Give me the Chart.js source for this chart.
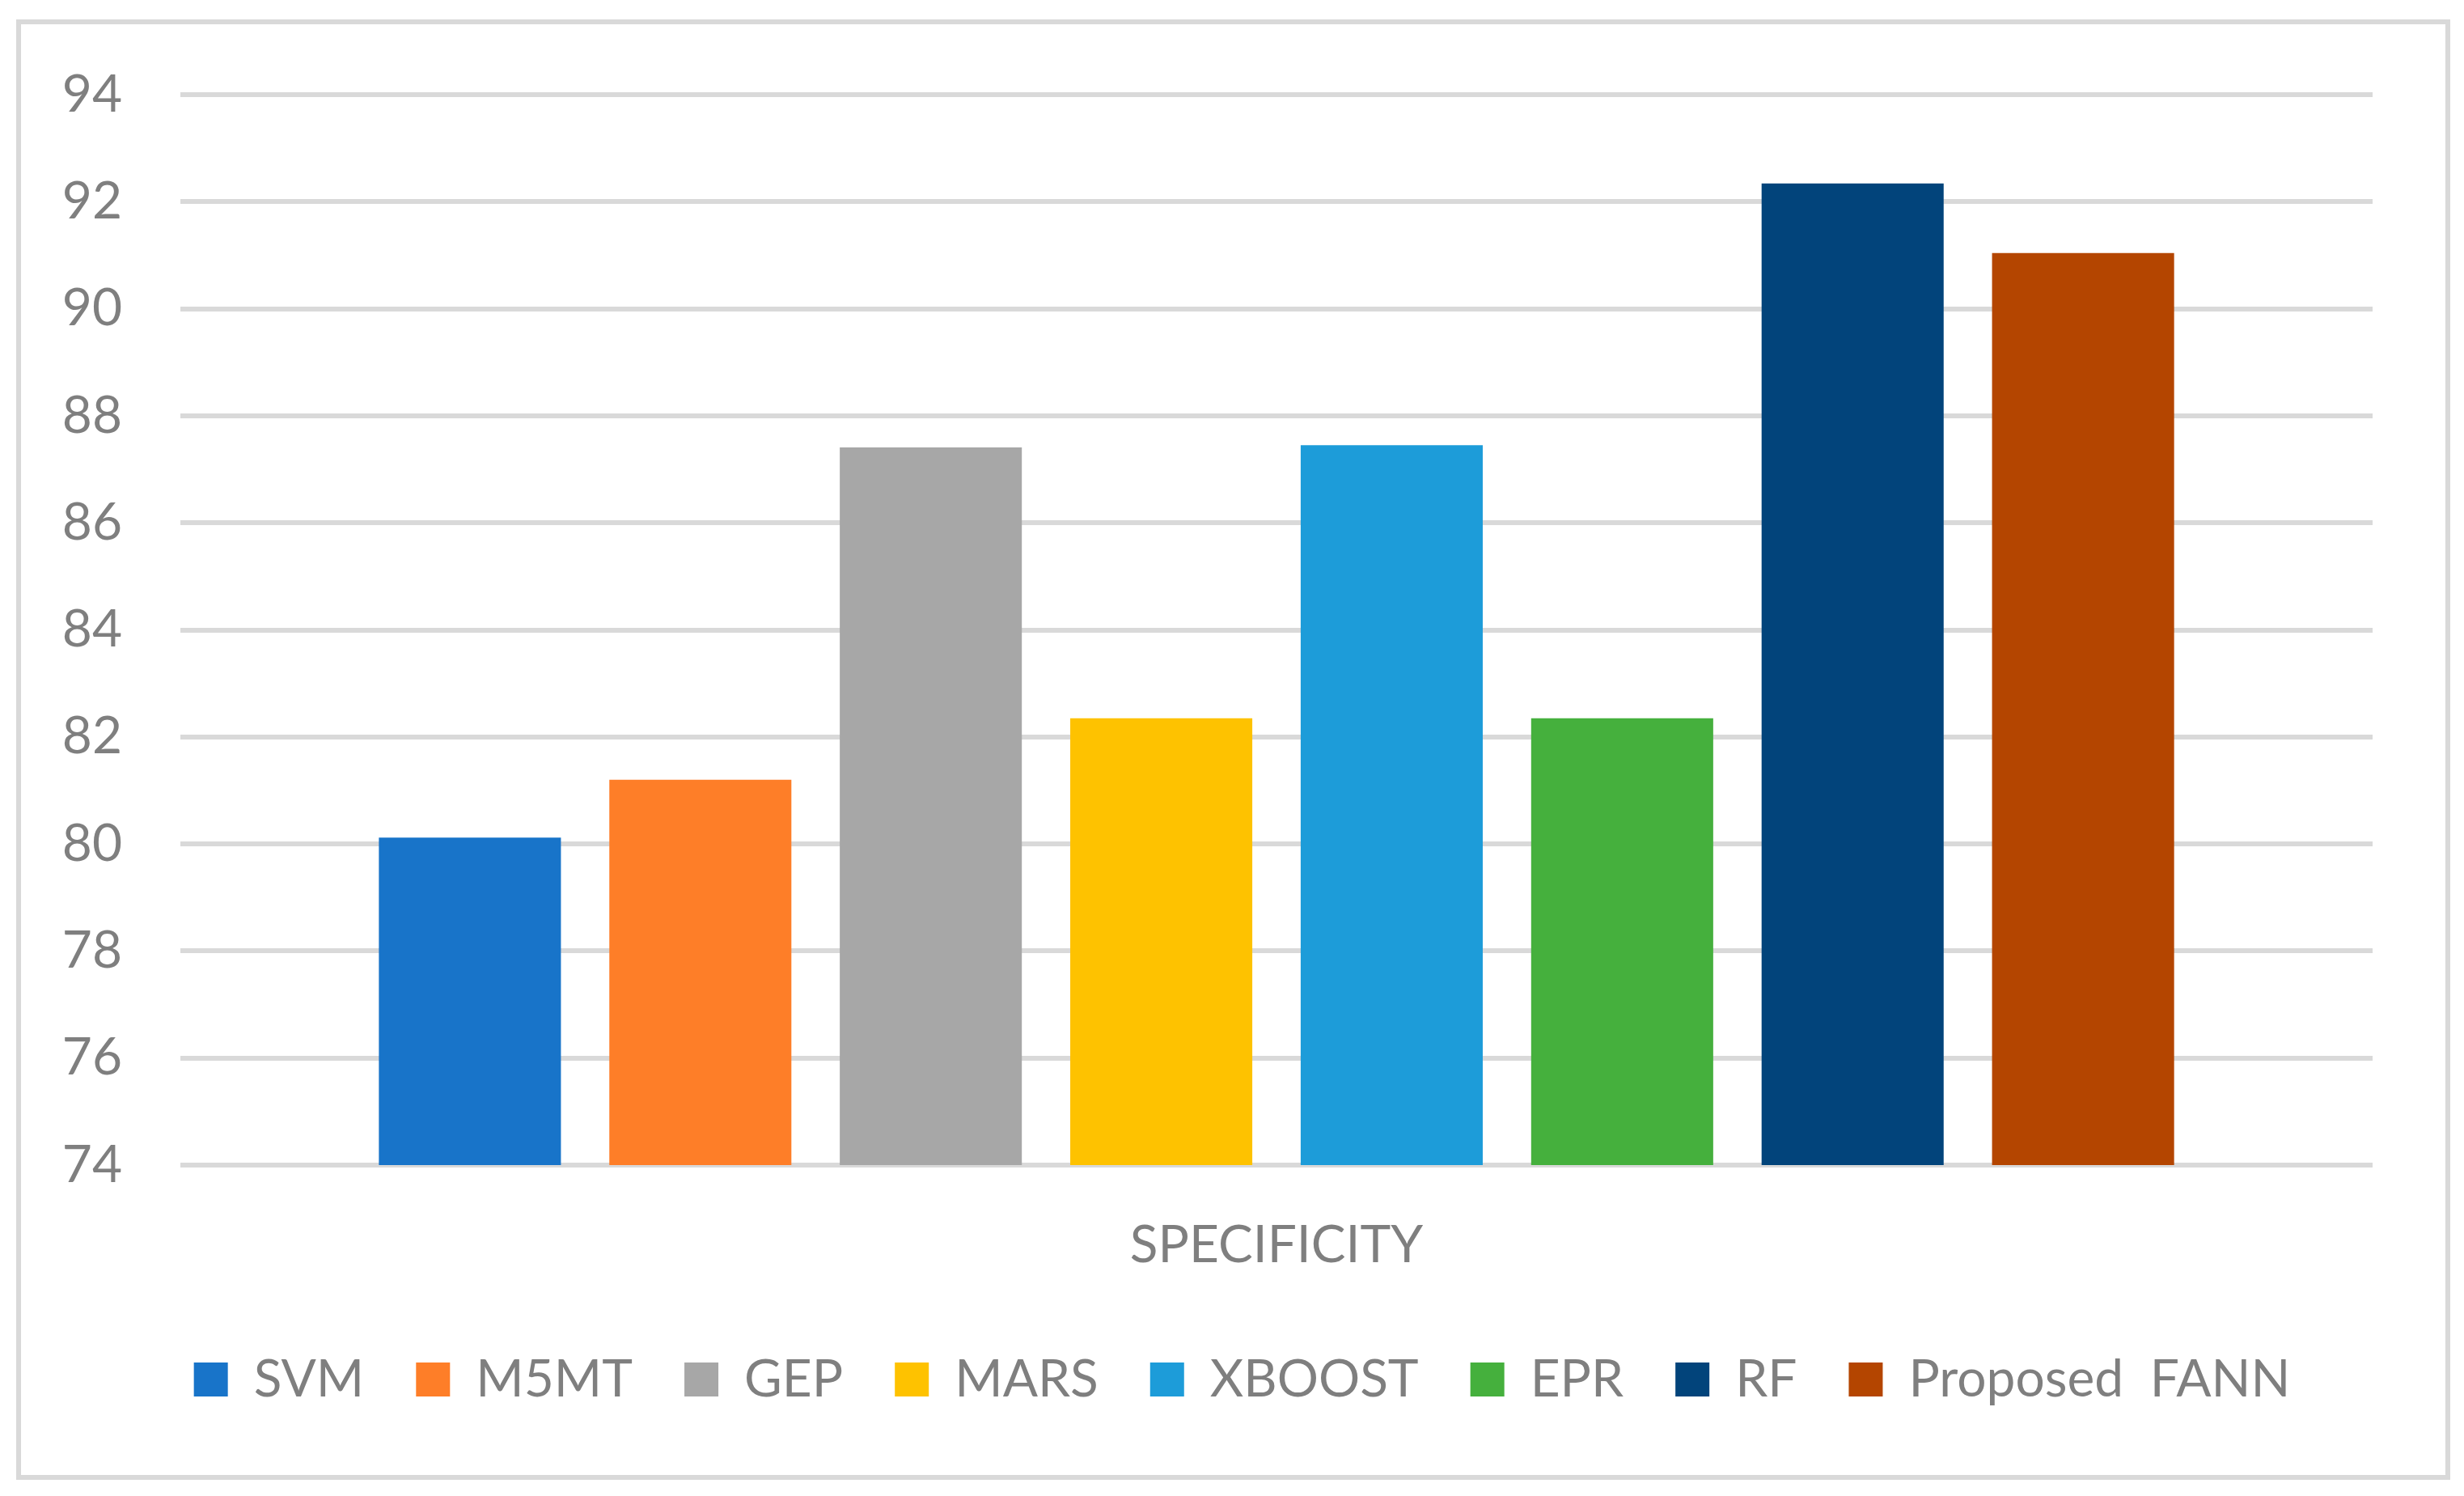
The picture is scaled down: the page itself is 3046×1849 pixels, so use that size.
<!DOCTYPE html>
<html>
<head>
<meta charset="utf-8">
<script src="https://cdn.jsdelivr.net/npm/chart.js@4.4.0/dist/chart.umd.min.js"></script>
<style>
  html, body { margin: 0; padding: 0; background: #ffffff; }
  #wrap { width: 3046px; height: 1849px; position: relative; }
</style>
</head>
<body>
<div id="wrap"><canvas id="lienzo" width="3046" height="1849"></canvas></div>
<script>
// Datos
const categorias = ['SPECIFICITY'];
const modelos = ['SVM', 'M5MT', 'GEP', 'MARS', 'XBOOST', 'EPR', 'RF', 'Proposed  FANN'];
const valores = [80.12, 81.2, 87.41, 82.35, 87.45, 82.35, 92.34, 91.04];
const colores = ['#1874c9', '#fe7e28', '#a7a7a7', '#fec200', '#1d9cd9', '#45b03d', '#02447b', '#b44500'];
const ticksY = [74, 76, 78, 80, 82, 84, 86, 88, 90, 92, 94];

const gris = '#7f7f7f';
const fuente = 'Lato, "Open Sans", sans-serif';

// Marco gris alrededor del grafico
const marco = {
  id: 'marco',
  beforeDraw(chart) {
    const c = chart.ctx;
    c.save();
    c.fillStyle = '#ffffff';
    c.fillRect(0, 0, chart.width, chart.height);
    c.strokeStyle = '#d9d9d9';
    c.lineWidth = 6;
    c.strokeRect(23, 27, 3003, 1799);
    c.restore();
  },
  // desplazo la leyenda para que quede centrada como en el original
  afterLayout(chart) {
    if (chart.legend) {
      chart.legend.left += 69;
      chart.legend.right += 69;
    }
  }
};

const ctx = document.getElementById('lienzo').getContext('2d');

const myChart = new Chart(ctx, {
  type: 'bar',
  data: {
    labels: categorias,
    datasets: modelos.map((m, i) => ({
      label: m,
      data: [valores[i]],
      backgroundColor: colores[i],
      borderWidth: 0,
      barPercentage: 0.79,
      categoryPercentage: 0.841
    }))
  },
  options: {
    responsive: false,
    animation: false,
    devicePixelRatio: 1,
    layout: {
      padding: { left: 0, right: 113, top: 117, bottom: 102 }
    },
    plugins: {
      tooltip: { enabled: false },
      legend: {
        position: 'bottom',
        labels: {
          boxWidth: 42,
          boxHeight: 42,
          padding: 64,
          color: gris,
          font: { family: fuente, size: 64 }
        }
      }
    },
    scales: {
      x: {
        grid: { display: false },
        border: { display: false },
        ticks: {
          color: gris,
          padding: 53,
          font: { family: fuente, size: 64 }
        },
        afterFit(scale) { scale.height = 169; }
      },
      y: {
        min: 74,
        max: 94,
        afterBuildTicks(scale) { scale.ticks = ticksY.map(v => ({ value: v })); },
        grid: { color: '#d9d9d9', lineWidth: 6, drawTicks: false },
        border: { display: false },
        ticks: {
          color: gris,
          padding: 72,
          font: { family: fuente, size: 64 }
        },
        afterFit(scale) { scale.width = 223; }
      }
    }
  },
  plugins: [marco]
});
</script>
</body>
</html>
